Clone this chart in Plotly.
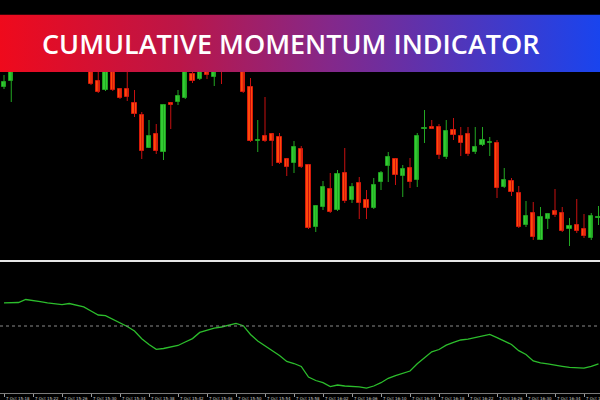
import base64
import plotly.graph_objects as go

# ---------------- data ----------------
opens = [1.0973, 1.0979, 1.0994, 1.1002, 1.1010, 1.1004, 1.1008, 1.1000, 1.1003, 1.0997,
         1.1005, 1.0998, 1.0994, 1.0979, 1.0970, 1.0990, 1.0971, 1.0971, 1.0957, 1.0945,
         1.0912, 1.0926, 1.0908, 1.0957, 1.0958, 1.0962, 1.0986, 1.0981, 1.0992, 1.0983,
         1.0998, 1.0994, 1.1002, 1.1005, 1.0973, 1.0919, 1.0924, 1.0926, 1.0923, 1.0901,
         1.0897, 1.0911, 1.0895, 1.0833, 1.0853, 1.0871, 1.0850, 1.0887, 1.0860, 1.0877,
         1.0860, 1.0852, 1.0878, 1.0894, 1.0901, 1.0884, 1.0892, 1.0880, 1.0931, 1.0933,
         1.0933, 1.0903, 1.0930, 1.0924, 1.0926, 1.0908, 1.0915, 1.0917, 1.0917, 1.0873,
         1.0879, 1.0867, 1.0835, 1.0847, 1.0820, 1.0841, 1.0849, 1.0847, 1.0831, 1.0835,
         1.0831, 1.0822, 1.0842]
highs = [1.0985, 1.0998, 1.1005, 1.1014, 1.1013, 1.1011, 1.1010, 1.1006, 1.1005, 1.1008,
         1.1007, 1.1002, 1.0997, 1.0994, 1.0993, 1.0992, 1.0972, 1.0992, 1.0970, 1.0948,
         1.0940, 1.0936, 1.0955, 1.0957, 1.0970, 1.0995, 1.0991, 1.0996, 1.0994, 1.0996,
         1.1002, 1.1006, 1.1012, 1.1008, 1.0982, 1.0940, 1.0963, 1.0926, 1.0927, 1.0901,
         1.0919, 1.0914, 1.0896, 1.0854, 1.0879, 1.0887, 1.0890, 1.0912, 1.0877, 1.0883,
         1.0870, 1.0882, 1.0889, 1.0908, 1.0901, 1.0895, 1.0902, 1.0927, 1.0950, 1.0940,
         1.0936, 1.0940, 1.0942, 1.0933, 1.0933, 1.0933, 1.0933, 1.0923, 1.0920, 1.0892,
         1.0882, 1.0874, 1.0859, 1.0858, 1.0853, 1.0846, 1.0871, 1.0853, 1.0842, 1.0861,
         1.0846, 1.0847, 1.0854]
lows = [1.0971, 1.0958, 1.0992, 1.0999, 1.1000, 1.1001, 1.0997, 1.0996, 1.0994, 1.0994,
        1.0995, 1.0991, 1.0975, 1.0967, 1.0969, 1.0969, 1.0961, 1.0959, 1.0943, 1.0901,
        1.0912, 1.0906, 1.0900, 1.0931, 1.0955, 1.0961, 1.0977, 1.0980, 1.0981, 1.0974,
        1.0976, 1.0991, 1.0998, 1.0967, 1.0918, 1.0908, 1.0918, 1.0894, 1.0896, 1.0884,
        1.0887, 1.0892, 1.0831, 1.0828, 1.0850, 1.0847, 1.0849, 1.0857, 1.0857, 1.0841,
        1.0841, 1.0851, 1.0870, 1.0878, 1.0875, 1.0863, 1.0872, 1.0873, 1.0917, 1.0931,
        1.0901, 1.0901, 1.0920, 1.0904, 1.0904, 1.0906, 1.0914, 1.0904, 1.0862, 1.0872,
        1.0864, 1.0832, 1.0833, 1.0820, 1.0820, 1.0831, 1.0843, 1.0828, 1.0814, 1.0827,
        1.0822, 1.0820, 1.0835]
closes = [1.0978, 1.0994, 1.1002, 1.1010, 1.1004, 1.1008, 1.1000, 1.1003, 1.0997, 1.1005,
          1.0998, 1.0994, 1.0976, 1.0968, 1.0990, 1.0970, 1.0962, 1.0963, 1.0946, 1.0909,
          1.0924, 1.0909, 1.0955, 1.0955, 1.0964, 1.0992, 1.0979, 1.0992, 1.0985, 1.0992,
          1.0994, 1.1002, 1.1008, 1.0968, 1.0919, 1.0920, 1.0919, 1.0919, 1.0897, 1.0893,
          1.0913, 1.0893, 1.0832, 1.0854, 1.0873, 1.0848, 1.0886, 1.0859, 1.0873, 1.0857,
          1.0852, 1.0875, 1.0887, 1.0903, 1.0885, 1.0891, 1.0878, 1.0924, 1.0932, 1.0931,
          1.0905, 1.0929, 1.0925, 1.0917, 1.0906, 1.0913, 1.0920, 1.0918, 1.0872, 1.0880,
          1.0868, 1.0833, 1.0844, 1.0823, 1.0843, 1.0846, 1.0845, 1.0829, 1.0834, 1.0829,
          1.0824, 1.0844, 1.0843]

cmi = [23.2, 23.0, 23.5, 26.5, 25.7, 24.3, 23.2, 22.0, 21.4, 22.5,
       21.0, 19.1, 15.0, 11.0, 10.4, 7.0, 3.3, -0.5, -5.0, -12.8,
       -18.5, -23.3, -22.5, -21.0, -19.5, -16.0, -12.6, -6.4, -4.0, -2.2,
       -1.0, 0.8, 2.6, 0.3, -8.5, -15.0, -19.8, -24.5, -29.5, -35.5,
       -37.5, -40.5, -51.0, -54.5, -56.7, -60.6, -59.0, -60.0, -60.3, -60.8,
       -62.2, -60.0, -56.7, -52.3, -49.6, -47.4, -45.0, -37.7, -31.5, -25.8,
       -23.5, -19.2, -16.3, -14.0, -13.2, -11.8, -10.0, -8.4, -11.6, -15.0,
       -18.5, -24.7, -28.5, -35.0, -36.8, -37.8, -38.7, -40.3, -41.4, -41.7,
       -42.2, -40.3, -37.8]

tick_idx = [0, 4, 8, 12, 16, 20, 24, 28, 32, 36, 40, 44, 48, 52, 56, 60, 64, 68, 72, 76, 80]
tick_labels = ["7 Oct 15:18", "7 Oct 15:22", "7 Oct 15:26", "7 Oct 15:30", "7 Oct 15:34",
               "7 Oct 15:38", "7 Oct 15:42", "7 Oct 15:46", "7 Oct 15:50", "7 Oct 15:54",
               "7 Oct 15:58", "7 Oct 16:02", "7 Oct 16:06", "7 Oct 16:10", "7 Oct 16:14",
               "7 Oct 16:18", "7 Oct 16:22", "7 Oct 16:26", "7 Oct 16:30", "7 Oct 16:34",
               "7 Oct 16:38"]

title_text = "CUMULATIVE MOMENTUM INDICATOR"

# ---------------- style ----------------
BULL_FILL, BULL_EDGE, BULL_WICK = "#33cc33", "#1f9f1f", "#23a823"
BEAR_FILL, BEAR_EDGE, BEAR_WICK = "#ff4a0a", "#d81a0a", "#c81010"

n = len(opens)
idx = list(range(n))

fig = go.Figure()

# wicks
for bull in (True, False):
    xs, ys = [], []
    for i in idx:
        if (closes[i] >= opens[i]) == bull:
            xs += [i, i, None]
            ys += [lows[i], highs[i], None]
    fig.add_trace(go.Scatter(x=xs, y=ys, mode="lines",
                             line=dict(color=BULL_WICK if bull else BEAR_WICK, width=1),
                             hoverinfo="skip", xaxis="x", yaxis="y"))

# bodies
bases, heights, fills, edges = [], [], [], []
for i in idx:
    lo, hi = min(opens[i], closes[i]), max(opens[i], closes[i])
    bases.append(lo)
    heights.append(max(hi - lo, 0.00008))
    bull = closes[i] >= opens[i]
    fills.append(BULL_FILL if bull else BEAR_FILL)
    edges.append(BULL_EDGE if bull else BEAR_EDGE)
fig.add_trace(go.Bar(x=idx, y=heights, base=bases, width=0.58,
                     marker=dict(color=fills, line=dict(color=edges, width=1)),
                     xaxis="x", yaxis="y", hoverinfo="skip"))

# indicator
fig.add_trace(go.Scatter(x=idx, y=cmi, mode="lines",
                         line=dict(color="#2cbd2c", width=1.3),
                         xaxis="x2", yaxis="y2", hoverinfo="skip"))

H = 400.0
def py(pix):
    return 1 - pix / H

xr = [-4 / 7.25, 596 / 7.25]

# banner gradient as svg
svg = ('<svg xmlns="http://www.w3.org/2000/svg" width="600" height="58" viewBox="0 0 600 58" '
       'preserveAspectRatio="none"><defs><linearGradient id="g" x1="0" y1="0" x2="1" y2="0">'
       '<stop offset="0" stop-color="#ef0a1c"/><stop offset="0.3" stop-color="#bb1648"/>'
       '<stop offset="0.55" stop-color="#84288a"/><stop offset="1" stop-color="#1944ee"/>'
       '</linearGradient></defs><rect width="600" height="58" fill="url(#g)"/></svg>')
svg_uri = "data:image/svg+xml;base64," + base64.b64encode(svg.encode()).decode()

annotations = [dict(text=title_text, x=291 / 600, y=py(43), xref="paper", yref="paper",
                    showarrow=False, xanchor="center", yanchor="middle",
                    font=dict(family="Open Sans, Inter, sans-serif", size=27,
                              color="white", weight=600))]
for t, lab in zip(tick_idx, tick_labels):
    annotations.append(dict(text=lab, x=t, y=py(395), xref="x2", yref="paper",
                            showarrow=False, xanchor="left", yanchor="top", xshift=1,
                            borderpad=0,
                            font=dict(family="DejaVu Sans, sans-serif", size=4, color="#c8c8c8")))

fig.update_layout(
    width=600, height=400,
    margin=dict(l=0, r=0, t=0, b=0),
    paper_bgcolor="black", plot_bgcolor="black",
    showlegend=False, barmode="overlay", bargap=0,
    xaxis=dict(range=xr, domain=[0, 1], anchor="y", showgrid=False, zeroline=False,
               showticklabels=False, ticks="", showline=False, fixedrange=True),
    yaxis=dict(range=[1.0802, 1.1060], domain=[py(258), 1], anchor="x", showgrid=False,
               zeroline=False, showticklabels=False, ticks="", showline=False),
    xaxis2=dict(range=xr, domain=[0, 1], anchor="y2", showgrid=False, zeroline=False,
                showticklabels=False, showline=True, linecolor="#7a7a7a", linewidth=1,
                ticks="outside", tickvals=tick_idx, ticklen=3, tickcolor="#9a9a9a", tickwidth=1),
    yaxis2=dict(range=[-67, 63], domain=[py(393), py(263)], anchor="x2", showgrid=False,
                zeroline=False, showticklabels=False, ticks="", showline=False),
    shapes=[
        dict(type="line", xref="paper", yref="paper", x0=0, x1=1, y0=py(261), y1=py(261),
             line=dict(color="#e6e6e6", width=2)),
        dict(type="line", xref="paper", yref="y2", x0=0, x1=1, y0=0, y1=0,
             line=dict(color="#8a8a8a", width=1, dash="dot")),
    ],
    images=[dict(source=svg_uri, xref="paper", yref="paper", x=0, y=py(14.5),
                 sizex=1, sizey=(72 - 14.5) / H, xanchor="left", yanchor="top",
                 sizing="stretch", layer="above")],
    annotations=annotations,
)

fig.write_html("out.html", config={"displayModeBar": False},
               post_script="document.body.style.margin='0';document.body.style.background='black';")
